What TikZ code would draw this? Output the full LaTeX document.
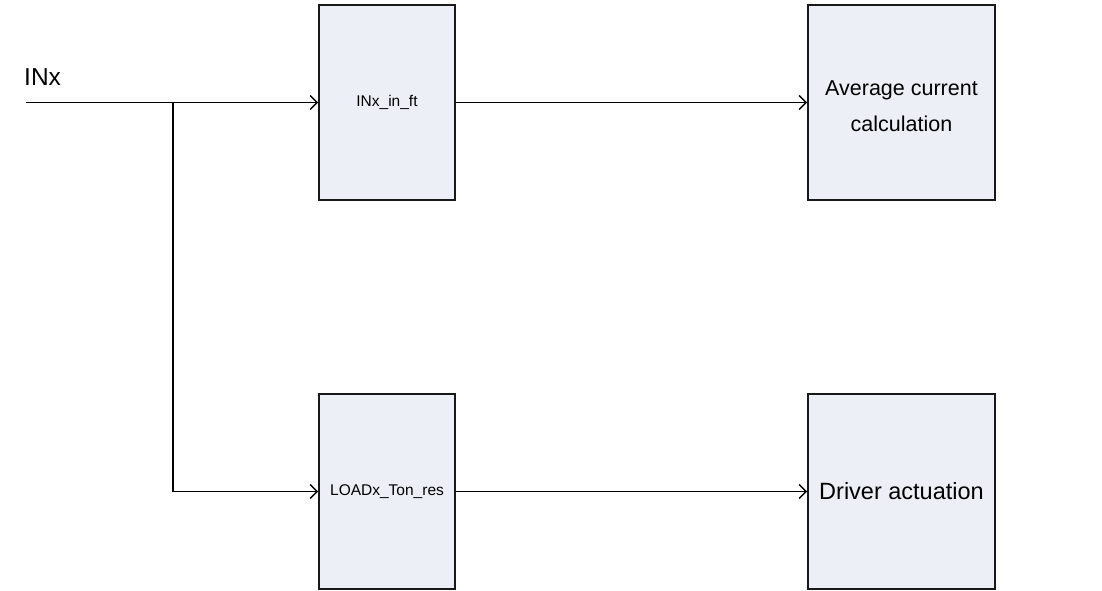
\documentclass[tikz,border=0pt]{standalone}
\usepackage{fontspec}
\setmainfont{Liberation Sans}
\usetikzlibrary{arrows.meta}
\definecolor{boxfill}{HTML}{ECEFF5}
\tikzset{
  blk/.style={draw=black!90, line width=1.6pt, fill=boxfill, inner sep=0pt, align=center},
  conn/.style={line width=1.4pt, -{Straight Barb[length=7pt,width=14pt,line width=1.4pt]}},
  small/.style={font=\fontsize{15.5}{19}\selectfont},
  big/.style={font=\fontsize{21.5}{36}\selectfont},
  bigger/.style={font=\fontsize{23.5}{28}\selectfont}
}
\begin{document}
\begin{tikzpicture}[x=1pt,y=-1pt]
\useasboundingbox[fill=white] (0,0) rectangle (1102,591);
\node[blk, small, minimum width=136pt, minimum height=195pt] (f1) at (387,102.5) {INx\_in\_ft};
\node[blk, minimum width=187pt, minimum height=195pt] (f2) at (901.5,102.5) {};
\node[big, align=center, inner sep=0pt] (f2t) at ([yshift=-3.5pt]f2.center) {Average current\\calculation};
\node[blk, small, minimum width=136pt, minimum height=195pt] (f3) at (387,491.5) {LOADx\_Ton\_res};
\node[blk, bigger, minimum width=187pt, minimum height=195pt] (f4) at (901.5,491.5) {Driver actuation};
\coordinate (in) at (26,102.5);
\coordinate (br) at (173,102.5);
\node[font=\fontsize{24.5}{28}\selectfont, anchor=south west, inner sep=0pt] (lbl) at (24,86) {INx};
\draw[conn] (in) -- (f1.west);
\draw[conn] (br) |- (f3.west);
\draw[conn] (f1.east) -- (f2.west);
\draw[conn] (f3.east) -- (f4.west);
\end{tikzpicture}
\end{document}
